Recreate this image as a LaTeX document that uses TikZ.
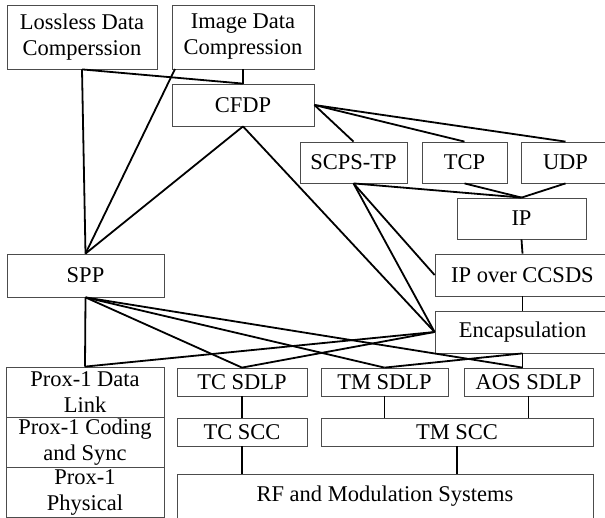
\documentclass[tikz,border=0pt]{standalone}
\usepackage{fontspec}
\setmainfont{Liberation Serif}
\begin{document}
\begin{tikzpicture}[x=1pt,y=-1pt,
  box/.style={draw=black!70,line width=0.8pt,inner sep=0pt,align=center,
    font=\fontsize{22.5}{26}\selectfont},
  conn/.style={line width=1.8pt,black}]
\useasboundingbox (0,0) rectangle (605,517);
% top row
\node[box,minimum width=150pt,minimum height=64pt] (loss) at (82,37) {Lossless Data\\Comperssion};
\node[box,minimum width=142pt,minimum height=64pt] (img) at (243,37) {Image Data\\Compression};
\node[box,minimum width=142pt,minimum height=42pt] (cfdp) at (243,105) {CFDP};
% transport
\node[box,minimum width=107pt,minimum height=41pt] (scps) at (353.5,162.5) {SCPS-TP};
\node[box,minimum width=85pt,minimum height=41pt] (tcp) at (464.5,162.5) {TCP};
\node[box,minimum width=89pt,minimum height=41pt] (udp) at (565.5,162.5) {UDP};
\node[box,minimum width=129pt,minimum height=41pt] (ip) at (521.5,218.5) {IP};
\node[box,minimum width=175pt,minimum height=42pt] (ipo) at (522.5,275) {IP over CCSDS};
\node[box,minimum width=175pt,minimum height=42pt] (enc) at (522.5,332) {Encapsulation};
\node[box,minimum width=157pt,minimum height=43pt] (spp) at (85.5,275.5) {SPP};
% Prox-1 stack
\node[box,minimum width=158pt,minimum height=50pt] (prox1) at (85,392) {Prox-1 Data\\Link};
\node[box,minimum width=158pt,minimum height=50pt] (prox2) at (85,442) {Prox-1 Coding\\and Sync};
\node[box,minimum width=158pt,minimum height=50pt] (prox3) at (85,492.5) {Prox-1\\Physical};
% data link / coding
\node[box,minimum width=130pt,minimum height=28pt] (tcsdlp) at (242,382) {TC SDLP};
\node[box,minimum width=127pt,minimum height=28pt] (tmsdlp) at (384.5,382) {TM SDLP};
\node[box,minimum width=129pt,minimum height=28pt] (aos) at (528.5,382) {AOS SDLP};
\node[box,minimum width=130pt,minimum height=28pt] (tcscc) at (242,432) {TC SCC};
\node[box,minimum width=272pt,minimum height=28pt] (tmscc) at (457,432) {TM SCC};
\node[box,minimum width=416pt,minimum height=44pt] (rf) at (385,496) {RF and Modulation Systems};
% helper points
\coordinate (imgsw) at (175,69);
\coordinate (aosin) at (enc.south |- aos.north);
% connectors, upper part
\draw[conn] (loss.south) -- (spp.north);
\draw[conn] (imgsw) -- (spp.north);
\draw[conn] (cfdp.south) -- (spp.north);
\draw[conn] (loss.south) -- (cfdp.north);
\draw[conn] (img.south) -- (cfdp.north);
\draw[conn] (cfdp.south) -- (enc.west);
\draw[conn] (cfdp.east) -- (scps.north);
\draw[conn] (cfdp.east) -- (tcp.north);
\draw[conn] (cfdp.east) -- (udp.north);
\draw[conn] (scps.south) -- (ip.north);
\draw[conn] (tcp.south) -- (ip.north);
\draw[conn] (udp.south) -- (ip.north);
\draw[conn] (scps.south) -- (ipo.west);
\draw[conn] (scps.south) -- (enc.west);
\draw[conn] (ip.south) -- (ipo.north);
\draw[conn] (ipo.south) -- (enc.north);
% connectors, lower part
\draw[conn] (spp.south) -- (prox1.north);
\draw[conn] (spp.south) -- (tcsdlp.north);
\draw[conn] (spp.south) -- (tmsdlp.north);
\draw[conn] (spp.south) -- (aosin);
\draw[conn] (enc.west) -- (prox1.north);
\draw[conn] (enc.west) -- (tcsdlp.north);
\draw[conn] (enc.south) -- (tmsdlp.north);
\draw[conn] (enc.south) -- (aosin);
\draw[conn] (tcsdlp.south) -- (tcscc.north);
\draw[conn] (tmsdlp.south) -- (tmsdlp.south |- tmscc.north);
\draw[conn] (aos.south) -- (aos.south |- tmscc.north);
\draw[conn] (tcscc.south) -- (tcscc.south |- rf.north);
\draw[conn] (tmscc.south) -- (tmscc.south |- rf.north);
\end{tikzpicture}
\end{document}
